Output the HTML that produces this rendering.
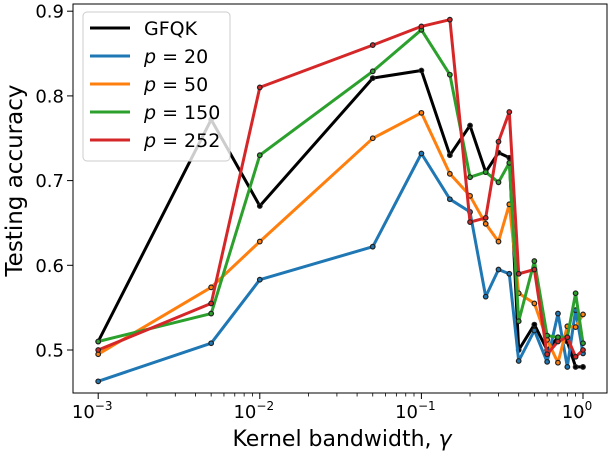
<!DOCTYPE html>
<html><head><meta charset="utf-8"><style>
body{margin:0;background:#fff}
svg text{font-family:"DejaVu Sans","Liberation Sans",sans-serif;fill:#000}
</style></head><body>
<svg id="chart" width="610" height="454"></svg>
<script>
const gammas=[0.001,0.005,0.01,0.05,0.1,0.15,0.2,0.25,0.3,0.35,0.4,0.5,0.6,0.7,0.8,0.9,1.0];
const seriesNames=["GFQK","p = 20","p = 50","p = 150","p = 252"];
const gfqk=[0.51,0.772,0.67,0.821,0.83,0.73,0.765,0.71,0.733,0.727,0.5,0.53,0.5,0.515,0.51,0.48,0.48];
const p20=[0.463,0.508,0.583,0.622,0.732,0.678,0.663,0.563,0.595,0.59,0.487,0.523,0.486,0.543,0.48,0.547,0.496];
const p50=[0.495,0.574,0.628,0.75,0.78,0.708,0.682,0.649,0.628,0.672,0.567,0.555,0.512,0.485,0.528,0.527,0.542];
const p150=[0.51,0.543,0.73,0.829,0.878,0.825,0.704,0.71,0.698,0.721,0.534,0.605,0.517,0.515,0.515,0.567,0.508];
const p252=[0.5,0.555,0.81,0.86,0.882,0.89,0.651,0.656,0.746,0.781,0.59,0.595,0.495,0.51,0.515,0.492,0.5];
const yTicks=[0.5,0.6,0.7,0.8,0.9];
const xTicks=[-3,-2,-1,0];
const colors=["#000000","#1f77b4","#ff7f0e","#2ca02c","#d62728"];
const allSeries=[gfqk,p20,p50,p150,p252];
const svg=document.getElementById('chart');
const NS="http://www.w3.org/2000/svg";
const L=73,R=607,T=4,B=393;
function xs(g){return 583+161.6*Math.log10(g);}
function ys(v){return 350-(v-0.5)*847;}
function mk(tag,attrs,parent){const e=document.createElementNS(NS,tag);for(const k in attrs)e.setAttribute(k,attrs[k]);(parent||svg).appendChild(e);return e;}
yTicks.forEach(v=>{
 const y=ys(v);
 const t=mk('line',{x1:L-6,x2:L,y1:y,y2:y,stroke:'#000','stroke-width':1});
 
 
 const tx=mk('text',{x:L-9,y:y+6.5,'text-anchor':'end','font-size':18});
 tx.textContent=v.toFixed(1);
 
 
});
xTicks.forEach(p=>{
 const x=xs(Math.pow(10,p));
 const t=mk('line',{x1:x,x2:x,y1:B,y2:B+6,stroke:'#000','stroke-width':1});
 
 
 const tx=mk('text',{x:x-6,y:B+25,'text-anchor':'middle','font-size':18});
 tx.innerHTML='10<tspan font-size="12" dy="-8">'+(p<0?'\u2212'+(-p):p)+'</tspan>';
 
 
});
for(let p=-3;p<0;p++){for(let m=2;m<10;m++){const x=xs(m*Math.pow(10,p));
 const t=mk('line',{x1:x,x2:x,y1:B,y2:B+3.5,stroke:'#000','stroke-width':0.8});
 
 }}
allSeries.forEach((vals,i)=>{
 const g=mk('g',{});
 
 
 const pts=vals.map((v,j)=>xs(gammas[j]).toFixed(1)+','+ys(v).toFixed(1)).join(' ');
 const pl=mk('polyline',{points:pts,fill:'none',stroke:colors[i],'stroke-width':3,'stroke-linejoin':'round'},g);
 
 
 vals.forEach((v,j)=>{
  const c=mk('circle',{cx:xs(gammas[j]),cy:ys(v),r:2.3,fill:colors[i],stroke:'#222','stroke-width':1.2},g);
  
  
 });
});
const fr=mk('rect',{x:L,y:T,width:R-L,height:B-T,fill:'none',stroke:'#000','stroke-width':1});


const lg=mk('g',{});


const lb=mk('rect',{x:83,y:12,width:147,height:149,rx:4,fill:'#fff','fill-opacity':0.8,stroke:'#ccc','stroke-width':1},lg);


seriesNames.forEach((n,i)=>{
 const y=28+i*28;
 const ln=mk('line',{x1:90,x2:130,y1:y,y2:y,stroke:colors[i],'stroke-width':3},lg);
 
 
 const t=mk('text',{x:144,y:y+7,'font-size':19},lg);
 t.innerHTML=i==0?'GFQK':'<tspan font-style="italic">p</tspan> = '+n.split('= ')[1];
 
 
});
const xl=mk('text',{x:(L+R)/2+2,y:446,'text-anchor':'middle','font-size':22});
xl.innerHTML='Kernel bandwidth, <tspan font-style="italic">γ</tspan>';


const yl=mk('text',{x:0,y:0,'text-anchor':'middle','font-size':23,transform:'translate(22,'+((T+B)/2-18)+') rotate(-90)'});
yl.textContent='Testing accuracy';


</script>
</body></html>
